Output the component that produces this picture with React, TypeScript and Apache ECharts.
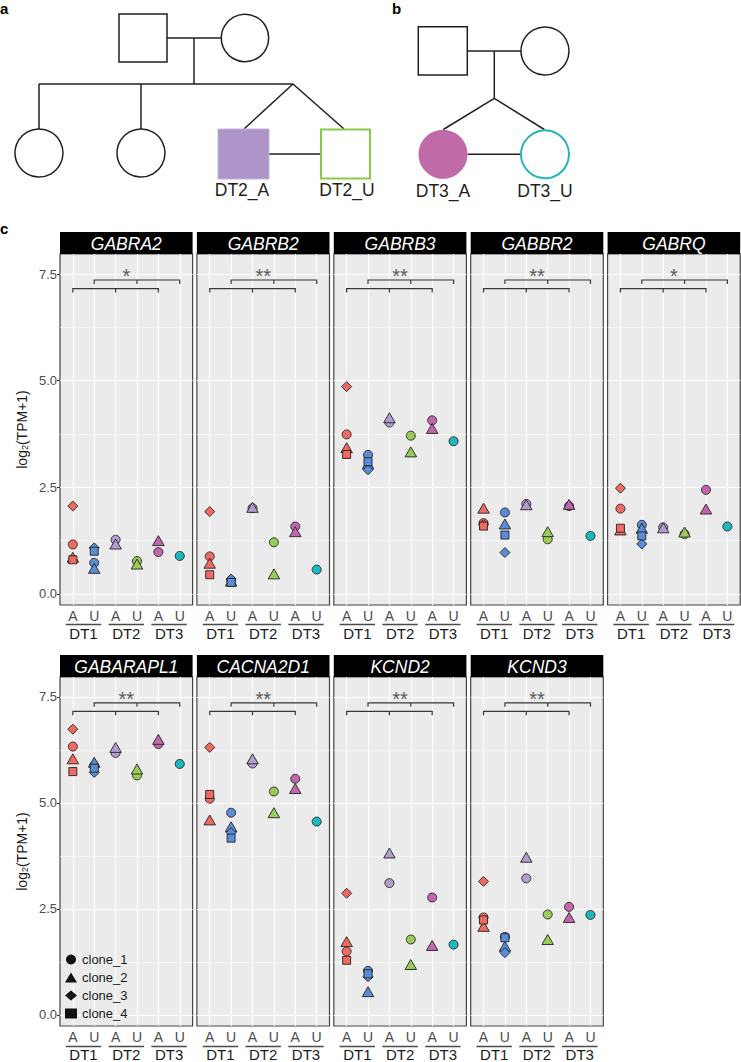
import React, { useEffect, useRef } from 'react';
import * as echarts from 'echarts';

// ---------------- data ----------------
const genes = ['GABRA2', 'GABRB2', 'GABRB3', 'GABBR2', 'GABRQ', 'GABARAPL1', 'CACNA2D1', 'KCND2', 'KCND3'];
const significance = ['*', '**', '**', '**', '*', '**', '**', '**', '**'];
const xCategories = ['A', 'U', 'A', 'U', 'A', 'U'];
const donors = ['DT1', 'DT2', 'DT3'];
const groupColors = ['#EE6A62', '#5B8DD6', '#B39DD0', '#9BCB59', '#C366AD', '#1DB8BB'];
const clones = ['clone_1', 'clone_2', 'clone_3', 'clone_4'];
const yTicks = [0, 2.5, 5, 7.5];
const yMinorTicks = [1.25, 3.75, 6.25];

// values per gene, one entry per group (DT1 A, DT1 U, DT2 A, DT2 U, DT3 A, DT3 U)
const clone1 = [
  [1.16, 0.73, 1.27, 0.77, 0.98, 0.89],
  [0.88, 0.32, 2.01, 1.21, 1.58, 0.57],
  [3.74, 3.26, 4.02, 3.71, 4.07, 3.58],
  [1.66, 1.91, 2.11, 1.28, 2.06, 1.36],
  [2.00, 1.62, 1.56, 1.40, 2.44, 1.58],
  [6.33, 5.88, 6.18, 5.65, 6.39, 5.92],
  [5.10, 4.77, 5.93, 5.27, 5.57, 4.56],
  [1.50, 1.04, 3.11, 1.78, 2.77, 1.66],
  [2.30, 1.84, 3.22, 2.37, 2.55, 2.36],
];
const clone2 = [
  [0.86, 0.60, 1.17, 0.70, 1.25, null],
  [0.72, 0.30, 2.03, 0.47, 1.46, null],
  [3.43, 3.05, 4.13, 3.33, 3.88, null],
  [2.01, 1.64, 2.09, 1.46, 2.10, null],
  [1.50, 1.54, 1.55, 1.45, 1.99, null],
  [6.04, 5.96, 6.31, 5.80, 6.50, null],
  [4.60, 4.44, 6.04, 4.77, 5.34, null],
  [1.73, 0.55, 3.82, 1.19, 1.64, null],
  [2.09, 1.62, 3.72, 1.78, 2.30, null],
];
const clone3 = [
  [2.06, 1.08, null, null, null, null],
  [1.93, 0.35, null, null, null, null],
  [4.86, 2.91, null, null, null, null],
  [1.62, 0.97, null, null, null, null],
  [2.48, 1.17, null, null, null, null],
  [6.74, 5.72, null, null, null, null],
  [6.31, 4.30, null, null, null, null],
  [2.87, 0.90, null, null, null, null],
  [3.15, 1.47, null, null, null, null],
];
const clone4 = [
  [0.80, 1.00, null, null, null, null],
  [0.45, 0.27, null, null, null, null],
  [3.27, 3.10, null, null, null, null],
  [1.59, 1.38, null, null, null, null],
  [1.54, 1.36, null, null, null, null],
  [5.74, 5.82, null, null, null, null],
  [5.20, 4.17, null, null, null, null],
  [1.29, 0.97, null, null, null, null],
  [2.24, 1.82, null, null, null, null],
];
const cloneValues = [clone1, clone2, clone3, clone4];
// significance brackets: [start, middle, end, height]
const bracketSpans = [
  [1, 3, 5, 7.16],
  [2, 4, 6, 7.36],
];
const starPos = [3.5, 7.46];

// ---------------- layout / style ----------------
const W = 741;
const H = 1062;
const FONT = '"Liberation Sans", Arial, Helvetica, sans-serif';
const PANEL_LEFT0 = 60;
const PANEL_STEP = 136.9;
const PANEL_W = 132.6;
const ROW_TOP = [254, 677];
const ROW_H = [351, 350];
const STRIP_H = 22;
const X_MIN = 0.4;
const X_MAX = 6.6;
const Y_MIN = -0.26;
const Y_MAX = 7.97;
const cloneSymbols = ['circle', 'triangle', 'diamond', 'rect'];
const cloneSizes: any[] = [9, [11.5, 10], 10, 8];
const INK = '#231f20';

function panelRect(i: number) {
  const row = i < 5 ? 0 : 1;
  const col = row === 0 ? i : i - 5;
  return { left: PANEL_LEFT0 + col * PANEL_STEP, top: ROW_TOP[row], width: PANEL_W, height: ROW_H[row], row, col };
}
const xPix = (r: any, v: number) => r.left + ((v - X_MIN) / (X_MAX - X_MIN)) * r.width;

function buildOption() {
  const grid: any[] = [];
  const xAxis: any[] = [];
  const yAxis: any[] = [];
  const series: any[] = [];
  const graphic: any[] = [];

  genes.forEach((gene, i) => {
    const r = panelRect(i);
    grid.push({
      left: r.left, top: r.top, width: r.width, height: r.height,
      show: true, backgroundColor: '#EBEBEB', borderColor: '#4a4242', borderWidth: 1.2,
    });
    xAxis.push({
      type: 'value', gridIndex: i, min: X_MIN, max: X_MAX, position: 'bottom',
      axisLine: { show: false }, splitLine: { show: false },
      axisTick: { show: true, customValues: [1, 2, 3, 4, 5, 6], length: 3, lineStyle: { color: '#333', width: 1 } },
      axisLabel: {
        customValues: [1, 2, 3, 4, 5, 6],
        formatter: (v: number) => xCategories[Math.round(v) - 1] ?? '',
        color: '#4d4d4d', fontSize: 14, margin: 4, fontFamily: FONT,
      },
    });
    xAxis.push({
      type: 'value', gridIndex: i, min: X_MIN, max: X_MAX, position: 'bottom', offset: 0,
      axisLine: { show: false }, splitLine: { show: false }, axisTick: { show: false },
      axisLabel: {
        customValues: [1.5, 3.5, 5.5],
        formatter: (v: number) => donors[Math.round((v - 1.5) / 2)] ?? '',
        color: '#1a1a1a', fontSize: 15, margin: 21, fontFamily: FONT,
      },
    });
    const first = r.col === 0;
    yAxis.push({
      type: 'value', gridIndex: i, min: Y_MIN, max: Y_MAX,
      axisLine: { show: false }, splitLine: { show: false },
      axisTick: { show: first, customValues: yTicks, length: 3, lineStyle: { color: '#333', width: 1 } },
      axisLabel: {
        show: first, customValues: yTicks, formatter: (v: number) => v.toFixed(1),
        color: '#4d4d4d', fontSize: 13, margin: 3, fontFamily: FONT,
      },
      name: first ? '{n|log}{s|2}{n|(TPM+1)}' : '',
      nameLocation: 'middle', nameRotate: 90, nameGap: 31,
      nameTextStyle: {
        fontFamily: FONT,
        rich: {
          n: { fontSize: 14, color: '#1a1a1a', fontFamily: FONT, lineHeight: 18, verticalAlign: 'bottom' },
          s: { fontSize: 9, color: '#1a1a1a', fontFamily: FONT, lineHeight: 12, verticalAlign: 'bottom' },
        },
      },
    });

    // gridlines
    const gl: any[] = [];
    [1, 2, 3, 4, 5, 6].forEach((x) => gl.push({ xAxis: x, lineStyle: { color: '#ffffff', width: 1.1, type: 'solid' } }));
    yTicks.forEach((y) => gl.push({ yAxis: y, lineStyle: { color: '#ffffff', width: 1.1, type: 'solid' } }));
    yMinorTicks.forEach((y) => gl.push({ yAxis: y, lineStyle: { color: '#ffffff', width: 0.55, type: 'solid' } }));
    series.push({
      type: 'scatter', xAxisIndex: 2 * i, yAxisIndex: i, data: [], silent: true, z: 1,
      markLine: { silent: true, z: 1, symbol: ['none', 'none'], label: { show: false }, emphasis: { disabled: true }, animation: false, data: gl },
    });

    // brackets
    series.push({
      type: 'custom', xAxisIndex: 2 * i, yAxisIndex: i, z: 2, silent: true,
      encode: { x: [0, 1, 2], y: 3 },
      data: bracketSpans,
      renderItem: (_p: any, api: any) => {
        const y = api.value(3);
        const ps = api.coord([api.value(0), y]);
        const pm = api.coord([api.value(1), y]);
        const pe = api.coord([api.value(2), y]);
        const d = 4;
        const st = { stroke: '#3d3535', lineWidth: 1.2, fill: null };
        return {
          type: 'group',
          children: [
            { type: 'polyline', shape: { points: [[ps[0], ps[1] + d], ps, pe, [pe[0], pe[1] + d]] }, style: st },
            { type: 'line', shape: { x1: pm[0], y1: pm[1], x2: pm[0], y2: pm[1] + d }, style: st },
          ],
        };
      },
    });
    // significance stars
    series.push({
      type: 'custom', xAxisIndex: 2 * i, yAxisIndex: i, z: 2, silent: true,
      data: [starPos],
      renderItem: (_p: any, api: any) => {
        const p = api.coord([api.value(0), api.value(1)]);
        return {
          type: 'text', x: p[0], y: p[1],
          style: {
            text: significance[i], fill: '#5a5a5a', font: `20px ${FONT}`,
            align: 'center', verticalAlign: 'middle', textAlign: 'center', textVerticalAlign: 'middle',
          },
        };
      },
    });

    // points
    cloneValues.forEach((cv, k) => {
      const vals = cv[i];
      const data: any[] = [];
      vals.forEach((v, g) => {
        if (v !== null && v !== undefined) data.push({ value: [g + 1, v], itemStyle: { color: groupColors[g] } });
      });
      series.push({
        name: clones[k], type: 'scatter', xAxisIndex: 2 * i, yAxisIndex: i, z: 3,
        symbol: cloneSymbols[k], symbolSize: cloneSizes[k],
        itemStyle: { color: '#111', borderColor: '#222', borderWidth: 0.9, opacity: 1 },
        emphasis: { disabled: true },
        data,
      });
    });

    // strip header
    graphic.push({
      type: 'rect', shape: { x: r.left, y: r.top - STRIP_H, width: r.width, height: STRIP_H },
      style: { fill: '#000000' }, silent: true,
    });
    graphic.push({
      type: 'text', x: r.left + r.width / 2, y: r.top - STRIP_H / 2 + 0.5, silent: true,
      style: {
        text: gene, fill: '#ffffff', font: `italic 17.5px ${FONT}`,
        align: 'center', verticalAlign: 'middle', textAlign: 'center', textVerticalAlign: 'middle',
      },
    });
    // donor underlines
    for (let d = 0; d < 3; d++) {
      const x1 = xPix(r, 2 * d + 1) - 7;
      const x2 = xPix(r, 2 * d + 2) + 7;
      const y = r.top + r.height + 19.5;
      graphic.push({ type: 'line', silent: true, shape: { x1, y1: y, x2, y2: y }, style: { stroke: '#4a4a4a', lineWidth: 1.5 } });
    }
  });

  // panel letters
  const letter = (t: string, x: number, y: number) => ({
    type: 'text', x, y, silent: true,
    style: { text: t, fill: '#000', font: `bold 15px ${FONT}`, align: 'left', verticalAlign: 'middle', textAlign: 'left', textVerticalAlign: 'middle' },
  });
  graphic.push(letter('a', 0, 8));
  graphic.push(letter('b', 392, 8));
  graphic.push(letter('c', 0, 228));

  const ln = (x1: number, y1: number, x2: number, y2: number) => ({
    type: 'line', silent: true, shape: { x1, y1, x2, y2 }, style: { stroke: INK, lineWidth: 1.5 },
  });
  const label = (t: string, x: number, y: number) => ({
    type: 'text', x, y, silent: true,
    style: { text: t, fill: '#231f20', font: `17.5px ${FONT}`, align: 'center', verticalAlign: 'middle', textAlign: 'center', textVerticalAlign: 'middle' },
  });

  // pedigree a
  graphic.push(ln(167, 38, 221, 38));
  graphic.push(ln(194, 38, 194, 84));
  graphic.push(ln(39, 84, 293, 84));
  graphic.push(ln(39, 84, 39, 129));
  graphic.push(ln(141, 84, 141, 129));
  graphic.push(ln(293, 84, 244, 129));
  graphic.push(ln(293, 84, 344, 129));
  graphic.push(ln(269, 154, 321, 154));
  graphic.push({ type: 'rect', silent: true, shape: { x: 119, y: 14, width: 48, height: 48 }, style: { fill: '#fff', stroke: INK, lineWidth: 1.5 } });
  graphic.push({ type: 'circle', silent: true, shape: { cx: 245, cy: 38, r: 23.7 }, style: { fill: '#fff', stroke: INK, lineWidth: 1.5 } });
  graphic.push({ type: 'circle', silent: true, shape: { cx: 39, cy: 153, r: 24 }, style: { fill: '#fff', stroke: INK, lineWidth: 1.5 } });
  graphic.push({ type: 'circle', silent: true, shape: { cx: 141, cy: 153, r: 24 }, style: { fill: '#fff', stroke: INK, lineWidth: 1.5 } });
  graphic.push({ type: 'rect', silent: true, shape: { x: 218, y: 129, width: 51, height: 50 }, style: { fill: '#AE94C8', stroke: '#C4B2DA', lineWidth: 1 } });
  graphic.push({ type: 'rect', silent: true, shape: { x: 321, y: 129.5, width: 49, height: 49 }, style: { fill: '#fff', stroke: '#8CC84B', lineWidth: 2 } });
  graphic.push(label('DT2_A', 242, 190));
  graphic.push(label('DT2_U', 347, 190));

  // pedigree b
  graphic.push(ln(467, 51, 521, 51));
  graphic.push(ln(494.3, 51, 494.3, 98.3));
  graphic.push(ln(494.3, 98.3, 443.3, 129.5));
  graphic.push(ln(494.3, 98.3, 544.3, 129.5));
  graphic.push(ln(467.5, 154.3, 521, 154.3));
  graphic.push({ type: 'rect', silent: true, shape: { x: 418.3, y: 26.7, width: 49, height: 48.3 }, style: { fill: '#fff', stroke: INK, lineWidth: 1.5 } });
  graphic.push({ type: 'circle', silent: true, shape: { cx: 545, cy: 51, r: 24 }, style: { fill: '#fff', stroke: INK, lineWidth: 1.5 } });
  graphic.push({ type: 'circle', silent: true, shape: { cx: 443, cy: 154.3, r: 24.5 }, style: { fill: '#C06BA8' } });
  graphic.push({ type: 'circle', silent: true, shape: { cx: 545, cy: 154.3, r: 24 }, style: { fill: '#fff', stroke: '#22B5BA', lineWidth: 2 } });
  graphic.push(label('DT3_A', 443, 191));
  graphic.push(label('DT3_U', 545, 191));

  return {
    animation: false,
    textStyle: { fontFamily: FONT },
    grid, xAxis, yAxis, series,
    legend: {
      data: clones.map((c, k) => ({ name: c, icon: cloneSymbols[k] })),
      orient: 'vertical', left: 65, top: 953, itemWidth: 12, itemHeight: 10, itemGap: 5,
      padding: 0,
      selectedMode: false,
      textStyle: { fontSize: 13, color: '#1a1a1a', fontFamily: FONT },
      itemStyle: { color: '#111', borderColor: '#111', borderWidth: 0 },
    },
    graphic: { elements: graphic },
  };
}

export default function App() {
  const ref = useRef<HTMLDivElement>(null);
  useEffect(() => {
    document.body.style.margin = '0';
    const chart = echarts.init(ref.current as HTMLDivElement, null, { renderer: 'svg', width: W, height: H });
    chart.setOption(buildOption() as any);
    return () => chart.dispose();
  }, []);
  return <div ref={ref} style={{ width: W, height: H, background: '#fff' }} />;
}
